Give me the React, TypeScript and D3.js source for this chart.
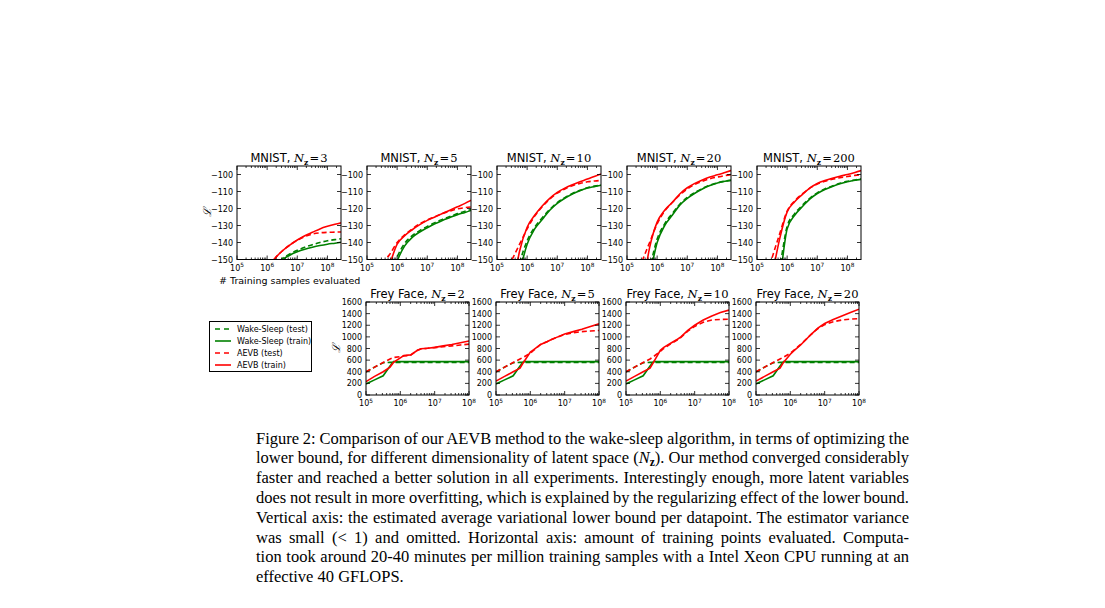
import { useEffect, useRef } from "react";
import * as d3 from "d3";

// ---- data (log10 of training samples evaluated on x) ----
const mnistNz = ["3", "5", "10", "20", "200"];
const freyNz = ["2", "5", "10", "20"];

const mnistLogX = [5.5, 5.75, 6.0, 6.25, 6.5, 6.75, 7.0, 7.25, 7.5, 7.75, 8.0, 8.25, 8.48];

const mnistAevbTrain = [
  [-185, -170, -156, -149.5, -145, -141.5, -138.5, -136, -134, -132, -130.5, -129.3, -128.3],
  [-165, -153, -141, -136, -132.5, -129.5, -127, -125, -123, -121, -119, -117, -115],
  [-170, -145, -131, -124, -118.5, -114, -110.5, -108, -106, -104.3, -102.7, -101, -99.5],
  [-170, -143, -128, -121, -116.5, -111.5, -107.8, -105.2, -103.2, -101.5, -100.2, -98.8, -97.5],
  [-160, -138, -122, -116, -111.8, -108, -105.3, -103.6, -102.2, -101, -100, -98.8, -97.6],
];
const mnistAevbTest = [
  [-185, -170, -156, -149.5, -145, -141.5, -138.7, -136.5, -135, -134.3, -134, -133.9, -133.8],
  [-152, -147, -140, -135.5, -132, -129, -126.7, -124.8, -123, -121.5, -120.2, -119.5, -119],
  [-150, -141, -132, -124.5, -119, -114.5, -111, -108.5, -106.6, -105.3, -104.3, -103.8, -103.5],
  [-151, -140, -129, -121.5, -116.5, -112, -108.5, -105.8, -104, -102.5, -101.5, -100.6, -100],
  [-149, -135, -121.5, -115.5, -111.5, -108, -105.6, -104, -102.8, -101.9, -101.2, -100.5, -100],
];
const mnistWsTrain = [
  [-190, -180, -168, -160, -150.5, -147.5, -145.5, -144, -142.8, -141.8, -141, -140.4, -139.8],
  [-175, -165, -151, -142, -137, -133.8, -131.3, -129, -127, -125.3, -123.6, -122.3, -121],
  [-180, -158, -141, -132, -126.5, -121, -117, -114, -111.5, -109.5, -108, -107, -106.2],
  [-180, -160, -140, -130, -124, -118, -114, -111, -108.5, -106.5, -105, -104, -103.4],
  [-180, -162, -132, -124, -119, -114.5, -111.2, -108.8, -107, -105.5, -104.3, -103.4, -102.8],
];
const mnistWsTest = [
  [-190, -180, -168, -159, -149.8, -146.8, -144.6, -142.8, -141.3, -140, -139, -138.3, -137.7],
  [-175, -160, -148.5, -140.5, -136, -133, -130.5, -128.3, -126.4, -124.7, -123, -121.6, -120.5],
  [-180, -153, -139, -131, -125.5, -120.5, -116.5, -113.6, -111.2, -109.3, -107.8, -106.8, -106],
  [-180, -156, -138, -129, -123, -117.5, -113.5, -110.6, -108.2, -106.3, -104.9, -103.9, -103.3],
  [-175, -155, -130.5, -123, -118.2, -114, -110.8, -108.5, -106.7, -105.2, -104, -103.2, -102.6],
];

const freyLogX = [5.0, 5.25, 5.5, 5.7, 5.8, 6.0, 6.1, 6.3, 6.5, 6.6, 6.8, 7.0, 7.25, 7.5, 7.75, 8.0];

const freyAevbTrain = [
  [230, 320, 400, 480, 560, 640, 680, 690, 770, 795, 805, 820, 845, 870, 900, 930],
  [240, 320, 400, 460, 560, 740, 780, 870, 920, 950, 1000, 1050, 1090, 1130, 1180, 1225],
  [240, 320, 400, 460, 560, 770, 820, 890, 960, 1000, 1110, 1200, 1290, 1360, 1420, 1460],
  [240, 320, 400, 460, 560, 700, 760, 860, 980, 1040, 1150, 1230, 1300, 1360, 1420, 1475],
];
const freyAevbTest = [
  [400, 480, 560, 620, 645, 660, 670, 685, 770, 790, 805, 815, 830, 845, 860, 875],
  [400, 480, 560, 620, 650, 720, 770, 870, 920, 950, 1000, 1040, 1070, 1090, 1100, 1110],
  [400, 480, 560, 620, 660, 750, 800, 880, 950, 990, 1100, 1180, 1250, 1290, 1300, 1305],
  [400, 480, 560, 620, 650, 720, 770, 870, 980, 1040, 1140, 1210, 1260, 1290, 1305, 1315],
];
const freyWsTrain = [190, 260, 330, 500, 575, 575, 575, 575, 575, 575, 575, 575, 575, 575, 575, 575];
const freyWsTest = [395, 480, 555, 562, 562, 562, 562, 562, 562, 562, 562, 562, 562, 562, 562, 562];

const mnistYTicks = [-150, -140, -130, -120, -110, -100];
const freyYTicks = [0, 200, 400, 600, 800, 1000, 1200, 1400, 1600];
const xTickExps = [5, 6, 7, 8];

const legendLabels = ["Wake-Sleep (test)", "Wake-Sleep (train)", "AEVB (test)", "AEVB (train)"];

const captionLines = [
  "Figure 2: Comparison of our AEVB method to the wake-sleep algorithm, in terms of optimizing the",
  "lower bound, for different dimensionality of latent space ($N). Our method converged considerably",
  "faster and reached a better solution in all experiments. Interestingly enough, more latent variables",
  "does not result in more overfitting, which is explained by the regularizing effect of the lower bound.",
  "Vertical axis: the estimated average variational lower bound per datapoint. The estimator variance",
  "was small (< 1) and omitted. Horizontal axis: amount of training points evaluated. Computa-",
  "tion took around 20-40 minutes per million training samples with a Intel Xeon CPU running at an",
  "effective 40 GFLOPS.",
];

const GREEN = "#008000";
const RED = "#ff0000";
const SANS = "DejaVu Sans, sans-serif";
const SERIF = "DejaVu Serif, serif";

type PanelOpts = {
  id: string;
  left: number;
  top: number;
  width: number;
  height: number;
  xMax: number;
  yDomain: [number, number];
  yTicks: number[];
  logX: number[];
  series: { values: number[]; color: string; dashed: boolean }[];
  titleLead: string;
  nz: string;
  yLabel: boolean;
  smooth: boolean;
};

function drawPanel(svg: d3.Selection<SVGSVGElement, unknown, null, undefined>, o: PanelOpts) {
  const x = d3.scaleLog().domain([1e5, o.xMax]).range([o.left, o.left + o.width]);
  const y = d3.scaleLinear().domain(o.yDomain).range([o.top + o.height, o.top]);
  const bottom = o.top + o.height;
  const right = o.left + o.width;
  const g = svg.append("g");

  g.append("clipPath")
    .attr("id", o.id)
    .append("rect")
    .attr("x", o.left)
    .attr("y", o.top)
    .attr("width", o.width)
    .attr("height", o.height);

  const line = d3
    .line<[number, number]>()
    .x((d) => x(d[0]))
    .y((d) => y(d[1]))
    .curve(o.smooth ? d3.curveMonotoneX : d3.curveLinear);

  const plot = g.append("g").attr("clip-path", `url(#${o.id})`);
  o.series.forEach((s) => {
    const pts = o.logX.map((l, i) => [Math.pow(10, l), s.values[i]] as [number, number]);
    plot
      .append("path")
      .attr("d", line(pts))
      .attr("fill", "none")
      .attr("stroke", s.color)
      .attr("stroke-width", 1.6)
      .attr("stroke-dasharray", s.dashed ? "5,3" : null);
  });

  // ticks point inward on all four sides
  const tickG = g.append("g").attr("stroke", "#000").attr("stroke-width", 0.8);
  const minors: number[] = [];
  for (let e = 5; e <= 8; e++) {
    for (let m = 2; m <= 9; m++) {
      const v = m * Math.pow(10, e);
      if (v < o.xMax) minors.push(v);
    }
  }
  minors.forEach((v) => {
    const px = x(v);
    tickG.append("line").attr("x1", px).attr("x2", px).attr("y1", bottom).attr("y2", bottom - 2);
    tickG.append("line").attr("x1", px).attr("x2", px).attr("y1", o.top).attr("y2", o.top + 2);
  });
  xTickExps.forEach((e) => {
    const px = x(Math.pow(10, e));
    tickG.append("line").attr("x1", px).attr("x2", px).attr("y1", bottom).attr("y2", bottom - 4);
    tickG.append("line").attr("x1", px).attr("x2", px).attr("y1", o.top).attr("y2", o.top + 4);
    const t = g
      .append("text")
      .attr("x", px)
      .attr("y", bottom + 11)
      .attr("text-anchor", "middle")
      .attr("font-family", SANS)
      .attr("font-size", 8)
      .text("10");
    t.append("tspan").attr("dy", -3.5).attr("font-size", 5.8).text(String(e));
  });
  o.yTicks.forEach((v) => {
    const py = y(v);
    tickG.append("line").attr("x1", o.left).attr("x2", o.left + 4).attr("y1", py).attr("y2", py);
    tickG.append("line").attr("x1", right).attr("x2", right - 4).attr("y1", py).attr("y2", py);
    g.append("text")
      .attr("x", o.left - 4)
      .attr("y", py + 3)
      .attr("text-anchor", "end")
      .attr("font-family", SANS)
      .attr("font-size", 8)
      .text(String(v).replace("-", "\u2212"));
  });

  g.append("rect")
    .attr("x", o.left)
    .attr("y", o.top)
    .attr("width", o.width)
    .attr("height", o.height)
    .attr("fill", "none")
    .attr("stroke", "#000")
    .attr("stroke-width", 1);

  const title = g
    .append("text")
    .attr("x", o.left + o.width / 2)
    .attr("y", o.top - 4)
    .attr("text-anchor", "middle")
    .attr("font-family", SANS)
    .attr("font-size", 11.5)
    .text(o.titleLead + ", ");
  title.append("tspan").attr("font-family", SERIF).attr("font-style", "italic").text("N");
  title.append("tspan").attr("font-family", SERIF).attr("font-weight", "bold").attr("font-size", 7.5).attr("dy", 2.5).text("z");
  title.append("tspan").attr("font-family", SERIF).attr("dy", -2.5).text("\u200A=\u200A" + o.nz);

  if (o.yLabel) {
    g.append("text")
      .attr("transform", `translate(${o.left - 26},${o.top + o.height / 2}) rotate(-90)`)
      .attr("text-anchor", "middle")
      .attr("font-family", SERIF)
      .attr("font-style", "italic")
      .attr("font-size", 11)
      .text("\u2112");
  }
}

export default function App() {
  const ref = useRef<SVGSVGElement>(null);

  useEffect(() => {
    const svg = d3.select(ref.current as SVGSVGElement);
    svg.selectAll("*").remove();

    // MNIST row
    mnistNz.forEach((nz, i) => {
      drawPanel(svg, {
        id: `mnist-${i}`,
        left: 237 + i * 130,
        top: 166,
        width: 104,
        height: 93.5,
        xMax: Math.pow(10, 8.45),
        yDomain: [-150, -95],
        yTicks: mnistYTicks,
        logX: mnistLogX,
        series: [
          { values: mnistWsTest[i], color: GREEN, dashed: true },
          { values: mnistWsTrain[i], color: GREEN, dashed: false },
          { values: mnistAevbTest[i], color: RED, dashed: true },
          { values: mnistAevbTrain[i], color: RED, dashed: false },
        ],
        titleLead: "MNIST",
        nz,
        yLabel: i === 0,
        smooth: true,
      });
    });

    svg
      .append("text")
      .attr("x", 219)
      .attr("y", 284)
      .attr("font-family", SANS)
      .attr("font-size", 9.5)
      .text("# Training samples evaluated");

    // Frey Face row
    freyNz.forEach((nz, i) => {
      drawPanel(svg, {
        id: `frey-${i}`,
        left: 366 + i * 130,
        top: 302,
        width: 103,
        height: 93,
        xMax: 1e8,
        yDomain: [0, 1600],
        yTicks: freyYTicks,
        logX: freyLogX,
        series: [
          { values: freyWsTest, color: GREEN, dashed: true },
          { values: freyWsTrain, color: GREEN, dashed: false },
          { values: freyAevbTest[i], color: RED, dashed: true },
          { values: freyAevbTrain[i], color: RED, dashed: false },
        ],
        titleLead: "Frey Face",
        nz,
        yLabel: i === 0,
        smooth: false,
      });
    });

    // legend
    const lg = svg.append("g");
    lg.append("rect")
      .attr("x", 209.5)
      .attr("y", 321.5)
      .attr("width", 102)
      .attr("height", 50)
      .attr("fill", "#fff")
      .attr("stroke", "#000")
      .attr("stroke-width", 1);
    const legendStyles = [
      { color: GREEN, dashed: true },
      { color: GREEN, dashed: false },
      { color: RED, dashed: true },
      { color: RED, dashed: false },
    ];
    legendLabels.forEach((lab, i) => {
      const cy = 329 + i * 12;
      lg.append("line")
        .attr("x1", 215)
        .attr("x2", 231)
        .attr("y1", cy)
        .attr("y2", cy)
        .attr("stroke", legendStyles[i].color)
        .attr("stroke-width", 1.6)
        .attr("stroke-dasharray", legendStyles[i].dashed ? "5,4" : null);
      lg.append("text")
        .attr("x", 237)
        .attr("y", cy + 3)
        .attr("font-family", SANS)
        .attr("font-size", 8)
        .text(lab);
    });

    // caption, justified by word spacing
    const capLeft = 256;
    const capRight = 909;
    captionLines.forEach((ln, i) => {
      const t = svg
        .append("text")
        .attr("x", capLeft)
        .attr("y", 443.5 + i * 19.8)
        .attr("font-family", "Liberation Serif, serif")
        .attr("font-size", 16.5)
        .attr("fill", "#000");
      const parts = ln.split("$N");
      t.append("tspan").text(parts[0]);
      if (parts.length > 1) {
        t.append("tspan").attr("font-style", "italic").text("N");
        t.append("tspan").attr("font-weight", "bold").attr("font-size", 11.5).attr("dy", 3).text("z");
        t.append("tspan").attr("dy", -3).text(parts[1]);
      }
      if (i < captionLines.length - 1) {
        const node = t.node() as SVGTextElement;
        const natural = node.getComputedTextLength();
        const spaces = (ln.match(/ /g) || []).length;
        t.style("word-spacing", `${(capRight - capLeft - natural) / spaces}px`);
      }
    });
  }, []);

  return (
    <svg
      ref={ref}
      width={1105}
      height={608}
      style={{ position: "absolute", left: 0, top: 0, background: "#fff" }}
    />
  );
}
